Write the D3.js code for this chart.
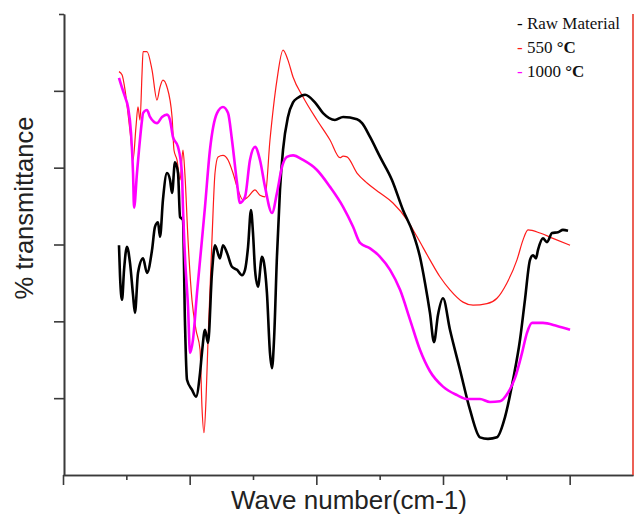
<!DOCTYPE html>
<html><head><meta charset="utf-8">
<script src="https://cdn.jsdelivr.net/npm/d3@7"></script>
<style>body{margin:0;background:#fff;}svg{display:block;}</style>
</head><body>
<svg id="chart" width="634" height="517"></svg>
<script>
// ---- data (wavenumber in cm-1, % transmittance) ----
const rawWave = [4058,4050,4034,4018,3995,3971,3947,3932,3908,3868,3837,3797,3774,3750,3734,3711,3679,3655,3639,3616,3592,3576,3553,3537,3521,3482,3450,3418,3403,3379,3355,3324,3300,3261,3237,3205,3166,3126,3087,3063,3039,3016,3000,2984,2961,2929,2913,2890,2866,2850,2834,2811,2787,2763,2724,2684,2645,2589,2511,2447,2353,2289,2179,2139,2076,1997,1903,1816,1737,1682,1642,1603,1571,1540,1500,1445,1366,1287,1208,1145,1074,1011,947,892,853,813,789,766,750,711,679,639,592,553,513];
const rawT    = [29.9,26.0,22.8,26.7,29.7,27.6,23.4,21.1,26.3,28.2,26.3,29.3,32.3,32.9,31.0,35.8,39.3,38.4,36.7,40.7,39.3,33.6,33.2,19.8,12.4,11.1,10.2,13.3,15.9,18.9,17.2,26.3,29.9,28.2,29.9,28.9,27.1,26.7,26.0,26.7,29.7,34.5,31.5,26.7,24.5,28.4,27.6,23.7,15.9,13.9,17.6,28.4,37.1,42.3,46.6,48.5,49.1,49.5,48.5,47.1,46.2,46.6,46.3,45.8,44.0,41.4,38.4,34.5,31.5,28.4,25.0,21.1,17.3,20.8,23.0,18.9,13.7,8.5,4.9,4.7,4.9,7.5,12.4,17.6,22.8,28.0,28.6,28.2,29.3,30.8,30.3,31.5,31.6,31.9,31.8];

const c550Wave = [4058,4034,4010,3987,3963,3947,3924,3908,3892,3876,3868,3837,3797,3758,3734,3711,3679,3639,3624,3600,3576,3553,3537,3513,3482,3450,3418,3403,3387,3371,3355,3324,3300,3276,3237,3197,3158,3118,3079,3039,2984,2945,2905,2866,2811,2763,2724,2684,2605,2495,2392,2313,2289,2258,2179,2100,1997,1895,1784,1705,1603,1524,1445,1342,1263,1153,1074,995,916,868,829,734,632,497];
const c550T    = [52.5,52.1,50.1,47.1,43.6,41.0,45.3,47.9,46.2,52.3,55.1,55.1,52.7,48.8,50.5,51.4,50.5,46.6,42.3,41.0,38.4,42.3,39.0,30.6,22.8,18.9,16.3,8.9,5.5,9.8,17.6,30.6,39.3,41.4,41.6,41.0,39.3,37.1,35.8,36.2,37.1,36.4,36.2,43.6,51.4,55.3,54.0,51.8,49.2,46.2,43.6,41.3,41.5,41.4,39.3,38.0,36.7,35.4,33.2,31.0,28.0,25.8,24.1,22.5,22.1,22.3,23.0,25.0,28.0,30.6,31.9,31.5,30.8,29.9];

const c1000Wave = [4058,4034,4010,3987,3963,3947,3939,3916,3900,3876,3868,3837,3813,3758,3718,3679,3655,3632,3592,3561,3553,3537,3513,3497,3474,3442,3403,3379,3340,3284,3237,3197,3166,3126,3103,3063,3024,2984,2945,2905,2850,2811,2771,2732,2684,2605,2495,2392,2289,2210,2155,2076,1997,1918,1839,1760,1682,1603,1500,1389,1311,1208,1129,1050,987,932,876,837,797,711,600,497];
const c1000T    = [51.7,50.4,49.2,47.9,44.5,39.3,34.8,39.3,42.3,46.2,47.1,47.5,46.6,45.8,46.6,46.9,46.2,44.0,42.7,39.3,34.9,28.4,21.9,15.9,17.6,23.7,30.6,34.9,42.3,47.1,47.9,47.1,43.6,38.0,35.4,36.2,41.0,42.7,41.0,37.5,34.1,36.7,40.1,41.4,41.6,41.0,39.7,37.5,34.9,32.3,30.2,29.5,28.4,26.7,24.1,20.2,16.3,13.5,11.5,10.4,9.9,9.9,9.5,9.6,10.7,12.6,15.9,18.5,19.8,19.8,19.4,18.9];

const xMajorTicks = [4500,3500,2500,1500,500];
const xMinorTicks = [4000,3000,2000,1000];
const yMajorTicks = [10,20,30,40,50];
const yMinorTicks = [60];

const legendLabels = ["Raw Material", "550 ", "1000 "];
const seriesColors = ["#000000", "#ff1a1a", "#ff00ff"];

// ---- drawing ----
const svg = d3.select("#chart");
const x = d3.scaleLinear().domain([4500, 0]).range([63, 633]);
const y = d3.scaleLinear().domain([0, 60]).range([475, 14]);
const axisColor = "#3a3a3a";

function styleAxis(g){
  g.select(".domain").attr("stroke", axisColor).attr("stroke-width", 1.6);
  g.selectAll(".tick line").attr("stroke", axisColor).attr("stroke-width", 1.6);
}

svg.append("g").attr("transform","translate(0,475)")
  .call(d3.axisBottom(x).tickValues(xMajorTicks).tickSize(10).tickSizeOuter(0).tickFormat(""))
  .call(styleAxis);
svg.append("g").attr("transform","translate(0,475)")
  .call(d3.axisBottom(x).tickValues(xMinorTicks).tickSize(5).tickSizeOuter(0).tickFormat(""))
  .call(styleAxis);
svg.append("g").attr("transform","translate(64,0)")
  .call(d3.axisLeft(y).tickValues(yMajorTicks).tickSize(10).tickSizeOuter(0).tickFormat(""))
  .call(styleAxis);
svg.append("g").attr("transform","translate(64,0)")
  .call(d3.axisLeft(y).tickValues(yMinorTicks).tickSize(5).tickSizeOuter(0).tickFormat(""))
  .call(styleAxis);

// right frame line (red)
svg.append("line").attr("x1", x(0)).attr("x2", x(0)).attr("y1", y(60)).attr("y2", y(0))
  .attr("stroke", "#e8392b").attr("stroke-width", 1.6);

const line = d3.line().x(d => x(d[0])).y(d => y(d[1])).curve(d3.curveMonotoneX);
const series = [
  {w: c550Wave, t: c550T, color: seriesColors[1], width: 1.2},
  {w: rawWave, t: rawT, color: seriesColors[0], width: 2.6},
  {w: c1000Wave, t: c1000T, color: seriesColors[2], width: 2.6}
];
series.forEach(s => {
  svg.append("path").datum(s.w.map((w,i)=>[w, s.t[i]]))
    .attr("fill","none").attr("stroke", s.color).attr("stroke-width", s.width)
    .attr("stroke-linejoin","round").attr("d", line);
});

// legend
const legend = svg.append("g").attr("font-family","'Liberation Serif','Times New Roman',serif").attr("font-size",17).attr("fill","#111");
legendLabels.forEach((lab,i) => {
  const t = legend.append("text").attr("x", 517).attr("y", 29 + i*24);
  t.append("tspan").attr("fill", seriesColors[i]).text("- ");
  t.append("tspan").text(lab);
  if (i > 0) t.append("tspan").attr("font-weight","bold").text("°C");
});

// axis titles
svg.append("text").attr("x", 349).attr("y", 509).attr("text-anchor","middle")
  .attr("font-family","'Liberation Sans',Arial,sans-serif").attr("font-size",26).attr("fill","#222")
  .text("Wave number(cm-1)");
svg.append("text").attr("transform","translate(33,208) rotate(-90)").attr("text-anchor","middle")
  .attr("font-family","'Liberation Sans',Arial,sans-serif").attr("font-size",25.5).attr("fill","#222")
  .text("% transmittance");
</script>
</body></html>
